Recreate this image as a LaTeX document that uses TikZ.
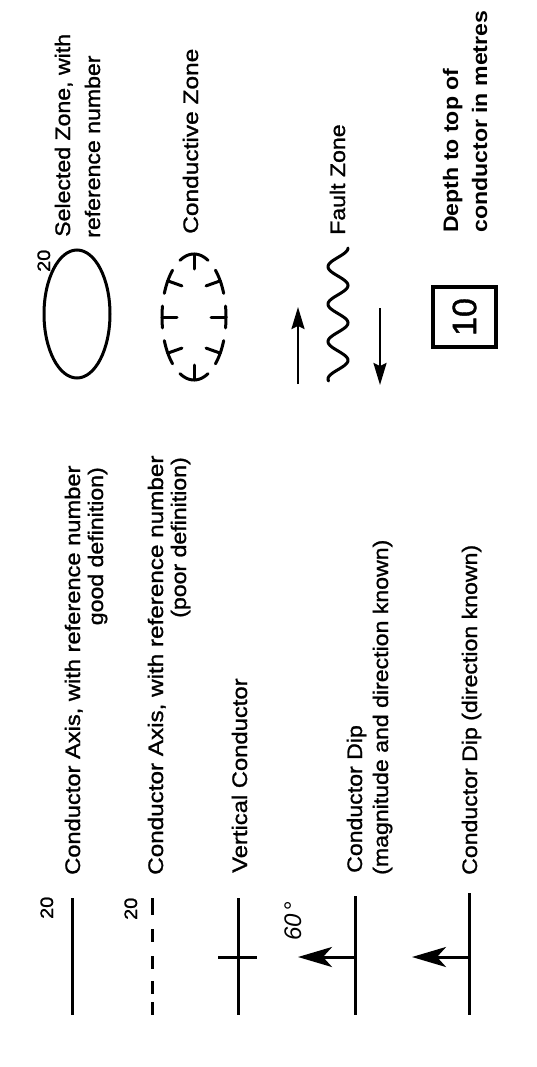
\documentclass[tikz,border=0pt]{standalone}
\usepackage{fontspec}
\setmainfont{Liberation Sans}
\newfontfamily\lett{Liberation Sans}[FakeBold=1.1]
\usetikzlibrary{arrows.meta}
\tikzset{
  sym/.style={line width=3pt},
  dashsym/.style={line width=3pt, dash pattern=on 17pt off 14pt on 13pt off 14pt on 13pt off 12pt on 13pt off 8pt on 13pt},
  txt/.style={rotate=90, anchor=base west, inner sep=0pt, xscale=1.1, font=\fontsize{21}{25}\lett},
  txtr/.style={txt, anchor=base east},
  boldtxt/.style={txt, font=\fontsize{21}{25}\selectfont\bfseries},
  num/.style={rotate=90, anchor=base west, inner sep=0pt, xscale=1.1, font=\fontsize{18}{22}\lett},
  diparrow/.style={line width=3pt, -{Stealth[length=34pt,width=20pt,inset=9pt]}},
  faultarrow/.style={line width=2.5pt, -{Stealth[length=22pt,width=13pt,inset=3pt]}},
  zone/.style={line width=3pt, line cap=round},
}
\begin{document}
\begin{tikzpicture}[x=1pt,y=-1pt]
\useasboundingbox (0,0) rectangle (537,1067);

% ---------- left column ----------
% Conductor axis, good definition
\coordinate (a1t) at (72,898);
\coordinate (a1b) at (72,1015);
\draw[sym] (a1t) -- (a1b);
\node[num] (n1) at (53,919) {20};
\node[txt, xscale=1.025] (t1a) at (80,875) {Conductor Axis, with reference number};
\node[txtr] (t1b) at (103,467) {good definition)};

% Conductor axis, poor definition
\coordinate (a2t) at (152,898);
\coordinate (a2b) at (152,1015);
\draw[dashsym] (a2t) -- (a2b);
\node[num] (n2) at (137,920) {20};
\node[txt, xscale=1.05] (t2a) at (163,875) {Conductor Axis, with reference number};
\node[txtr] (t2b) at (186,457) {(poor definition)};

% Vertical conductor
\coordinate (a3t) at (238,898);
\coordinate (a3b) at (238,1015);
\coordinate (a3l) at (218,957);
\coordinate (a3r) at (257,957);
\draw[sym] (a3t) -- (a3b);
\draw[sym] (a3l) -- (a3r);
\node[txt, xscale=1.03] (t3) at (247,873) {Vertical Conductor};

% Conductor dip, magnitude and direction
\coordinate (a4t) at (355,896);
\coordinate (a4b) at (355,1015);
\coordinate (a4m) at (355,957);
\coordinate (a4h) at (298,957);
\draw[sym] (a4t) -- (a4b);
\draw[diparrow] (a4m) -- (a4h);
\node[rotate=90, anchor=base west, inner sep=0pt, font=\fontsize{24}{28}\selectfont\itshape] (ang) at (301,941) {60\kern3pt°};
\node[txt] (t4a) at (362,873) {Conductor Dip};
\node[txt] (t4b) at (388,875) {(magnitude and direction known)};

% Conductor dip, direction known
\coordinate (a5t) at (469,893);
\coordinate (a5b) at (469,1015);
\coordinate (a5m) at (469,957);
\coordinate (a5h) at (412,957);
\draw[sym] (a5t) -- (a5b);
\draw[diparrow] (a5m) -- (a5h);
\node[txt] (t5) at (477,875) {Conductor Dip (direction known)};

% ---------- right column ----------
% Selected zone
\coordinate (selc) at (77,314);
\draw[sym] (selc) ellipse [x radius=33pt, y radius=64pt];
\node[num] (n3) at (50,272) {20};
\node[txt] (s1a) at (70,237) {Selected Zone, with};
\node[txt] (s1b) at (100,238) {reference number};

% Conductive zone
\foreach \t/\d in {90/26, 270/26, 0/10, 180/10, 35/13, -35/13, 145/13, 215/13} {
  \pgfmathsetmacro\ta{\t-\d}
  \pgfmathsetmacro\tb{\t+\d}
  \pgfmathsetmacro\nx{cos(\t)*63}
  \pgfmathsetmacro\ny{-sin(\t)*32}
  \pgfmathsetmacro\nl{sqrt(\nx*\nx+\ny*\ny)}
  \pgfmathsetmacro\dx{-15*\nx/\nl}
  \pgfmathsetmacro\dy{-15*\ny/\nl}
  \draw[zone] plot[domain=\ta:\tb, samples=20, smooth] ({194+32*cos(\x)},{317-63*sin(\x)});
  \draw[zone] ({194+32*cos(\t)},{317-63*sin(\t)}) -- ++(\dx,\dy);
}
\node[txt, xscale=1.06] (s2) at (198,234) {Conductive Zone};

% Fault zone
\coordinate (fu1) at (298,384);
\coordinate (fu2) at (298,307);
\coordinate (fd1) at (380,308);
\coordinate (fd2) at (380,385);
\draw[faultarrow] (fu1) -- (fu2);
\draw[faultarrow] (fd1) -- (fd2);
\draw[line width=3pt, line cap=round] plot[domain=248:381, samples=140, smooth] ({338-10*cos((379-\x)*9.6205)}, \x);
\node[txt] (s3) at (345,235) {Fault Zone};

% Depth to top of conductor
\node[draw, line width=3.5pt, rotate=90, minimum width=60pt, minimum height=63pt, inner sep=0pt, font=\fontsize{34}{40}\lett] (box) at (464.5,317) {10};
\node[boldtxt] (s4a) at (458,233) {Depth to top of};
\node[boldtxt] (s4b) at (487,233) {conductor in metres};
\end{tikzpicture}
\end{document}
